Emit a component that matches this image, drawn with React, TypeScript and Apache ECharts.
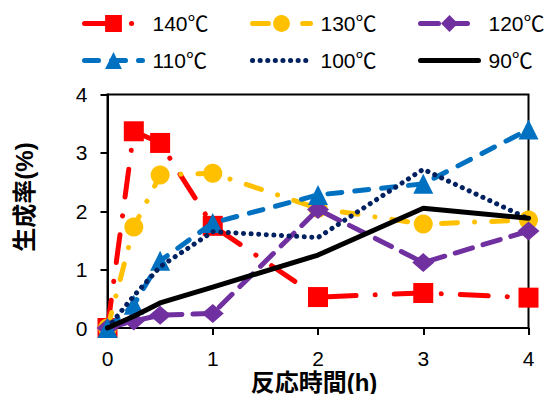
import React, { useEffect, useRef } from "react";
import * as echarts from "echarts";

const timesH = [0, 0.25, 0.5, 1, 2, 3, 4];
const names = ["140℃", "130℃", "120℃", "110℃", "100℃", "90℃"];
const s140 = [0, 3.37, 3.17, 1.75, 0.53, 0.6, 0.52];
const s130 = [0, 1.73, 2.62, 2.65, 2.05, 1.78, 1.85];
const s120 = [0, 0.12, 0.22, 0.25, 2.03, 1.12, 1.66];
const s110 = [0, 0.4, 1.15, 1.8, 2.28, 2.47, 3.4];
const s100 = [0, 0.55, 1.05, 1.65, 1.55, 2.72, 1.87];
const s90 = [0, 0.2, 0.43, 0.7, 1.25, 2.05, 1.88];
const yTicks = [0, 1, 2, 3, 4];
const xTicks = [0, 1, 2, 3, 4];
const xName = "反応時間(h)";
const yName = "生成率(%)";

const FONT = "'Liberation Sans', 'Noto Sans CJK JP', sans-serif";

const pairs = (vals: number[]) => vals.map((v, i) => [timesH[i], v]);

export default function App() {
  const ref = useRef<HTMLDivElement>(null);
  useEffect(() => {
    document.body.style.margin = "0";
    if (!ref.current) return;
    const chart = echarts.init(ref.current, null, { renderer: "svg" });
    const styles = [
      { color: "#FF0000", symbol: "rect", size: 20, dash: [28, 19, 0.1, 19] },
      { color: "#FFC000", symbol: "circle", size: 19, dash: [16, 17, 0.1, 17] },
      { color: "#7030A0", symbol: "diamond", size: [22, 19], dash: [18, 11] },
      { color: "#0070C0", symbol: "triangle", size: 20, dash: [14, 13] },
      { color: "#002060", symbol: "none", size: 0, dash: [0.1, 7.5] },
      { color: "#000000", symbol: "none", size: 0, dash: "solid" },
    ];
    const widths = [5, 5, 5, 5, 5, 5];
    const data = [s140, s130, s120, s110, s100, s90];
    const series = data.map((vals, i) => ({
      name: names[i],
      type: "line",
      data: pairs(vals),
      symbol: styles[i].symbol,
      symbolSize: styles[i].size,
      showSymbol: styles[i].symbol !== "none",
      itemStyle: { color: styles[i].color, borderWidth: 0 },
      lineStyle: {
        color: styles[i].color,
        width: widths[i],
        type: styles[i].dash,
        cap: "round",
        join: "round",
      },
      z: 2 + i,
    }));
    const colLeft = [82, 250, 418];
    const rowTop = [13, 50];
    const legends = names.map((n, i) => ({
      data: [n],
      left: colLeft[i % 3],
      top: rowTop[Math.floor(i / 3)],
      padding: 0,
      itemWidth: 58,
      itemHeight: 21,
      selectedMode: false,
      lineStyle: { width: widths[i], opacity: 1 },
      itemStyle: styles[i].symbol === "none" ? { opacity: 0 } : {},
      textStyle: {
        fontSize: 21,
        color: "#000",
        fontFamily: FONT,
        padding: [0, 0, 0, 5],
      },
    }));
    chart.setOption({
      animation: false,
      legend: legends,
      grid: {
        left: 107.5,
        right: 17.5,
        top: 94.5,
        bottom: 66,
        show: true,
        borderColor: "#000",
        borderWidth: 2,
        backgroundColor: "transparent",
      },
      xAxis: {
        type: "value",
        min: xTicks[0],
        max: xTicks[xTicks.length - 1],
        interval: 1,
        axisLine: { show: true, lineStyle: { color: "#000", width: 2 } },
        axisTick: { show: true, length: 7, lineStyle: { color: "#000", width: 2 } },
        splitLine: { show: false },
        axisLabel: { fontSize: 21, color: "#000", fontFamily: FONT, margin: 20 },
      },
      yAxis: {
        type: "value",
        min: yTicks[0],
        max: yTicks[yTicks.length - 1],
        interval: 1,
        axisLine: { show: true, lineStyle: { color: "#000", width: 2 } },
        axisTick: { show: true, length: 7, lineStyle: { color: "#000", width: 2 } },
        splitLine: { show: false },
        axisLabel: { fontSize: 21, color: "#000", fontFamily: FONT, margin: 20 },
      },
      graphic: [
        {
          type: "text",
          x: 314,
          y: 382,
          style: {
            text: xName,
            font: `bold 24px ${FONT}`,
            fill: "#000",
            textAlign: "center",
            textVerticalAlign: "middle",
          },
        },
        {
          type: "text",
          x: 24,
          y: 197,
          rotation: Math.PI / 2,
          style: {
            text: yName,
            font: `bold 24px ${FONT}`,
            fill: "#000",
            textAlign: "center",
            textVerticalAlign: "middle",
          },
        },
      ],
      series,
    });
    return () => chart.dispose();
  }, []);
  return <div ref={ref} style={{ width: 546, height: 394 }} />;
}
